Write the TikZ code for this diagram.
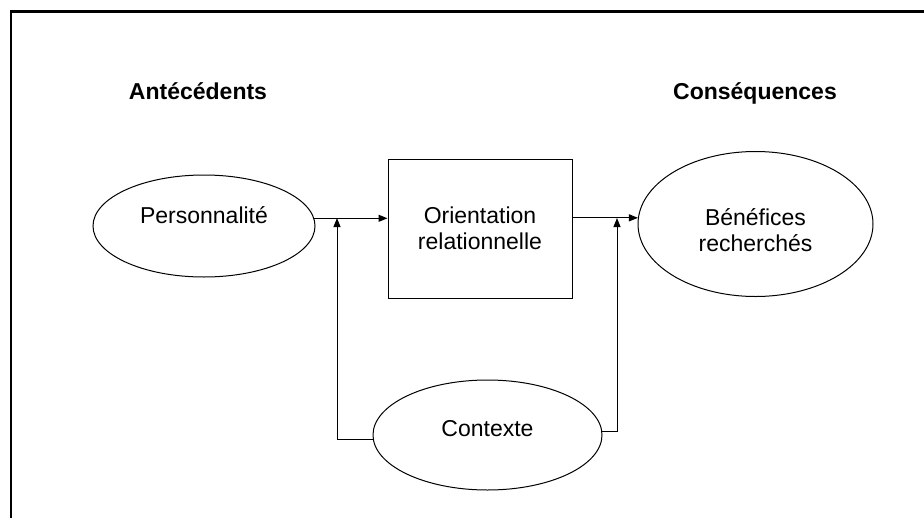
\documentclass[tikz,border=0pt]{standalone}
\usepackage{fontspec}
\setmainfont{Liberation Sans}
\usetikzlibrary{arrows.meta,shapes.geometric}
\begin{document}
\begin{tikzpicture}[x=1pt,y=-1pt,
  every node/.style={font=\fontsize{23}{26.5}\selectfont},
  oval/.style={draw,ellipse,line width=1pt,inner sep=0pt},
  boite/.style={draw,rectangle,line width=1pt,inner sep=0pt,align=center},
  conn/.style={line width=1pt},
  arr/.style={conn,-{Triangle[length=9pt,width=7pt]}},
  titre/.style={font=\fontsize{23}{26.5}\selectfont\bfseries,anchor=base}]
\useasboundingbox (0,0) rectangle (924,517);
\fill[white] (0,0) rectangle (924,517);
\draw[line width=2.5pt] (11,540) -- (11,11.5) -- (950,11.5);
\node[titre] (ante) at (198,99) {Antécédents};
\node[titre] (cons) at (755,99) {Conséquences};
\node[oval, minimum width=222pt, minimum height=102pt, text height=17pt, text depth=22.4pt] (pers) at (204,226) {Personnalité};
\node[boite, minimum width=184pt, minimum height=139pt] (orient) at (480,228.5) {Orientation\\relationnelle};
\node[oval, align=center, minimum width=235pt, minimum height=145pt, text height=55.4pt, text depth=0pt] (benef) at (755.5,224) {Bénéfices\\recherchés};
\node[oval, minimum width=229pt, minimum height=110pt, text height=17pt, text depth=13.6pt] (ctx) at (487.5,435) {Contexte};
\coordinate (jl) at (337,218);
\coordinate (jr) at (617,218);
\draw[arr] (pers.4) -- (pers.4 -| orient.west);
\draw[arr] (orient.east |- benef.177) -- (benef.177);
\draw[arr] (ctx.182) -| (jl);
\draw[arr] (ctx.2) -| (jr);
\end{tikzpicture}
\end{document}
